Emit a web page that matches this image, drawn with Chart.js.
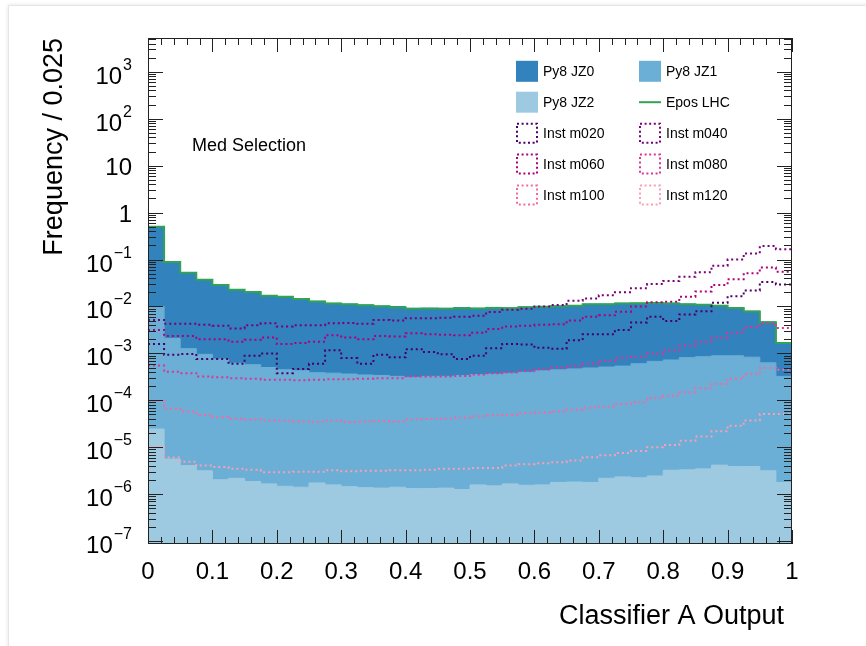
<!DOCTYPE html>
<html>
<head>
<meta charset="utf-8">
<title>Classifier A Output</title>
<script src="https://cdn.jsdelivr.net/npm/chart.js@4.4.1/dist/chart.umd.min.js"></script>
<style>
  html, body { margin: 0; padding: 0; background: #fff; overflow: hidden; }
  #wrap { position: relative; width: 866px; height: 646px; overflow: hidden; }
  .card {
    position: absolute; left: 8px; top: 5px; width: 900px; height: 700px;
    background: #fff; border: 1px solid #e6e6e6; box-shadow: 0 0 4px rgba(0, 0, 0, 0.12);
  }
  canvas { position: absolute; left: 0; top: 0; }
</style>
</head>
<body>
<div id="wrap">
  <div class="card"></div>
  <canvas id="classifierChart" width="866" height="646"></canvas>
</div>
<script>
// 40 bins of width 0.025 on [0, 1]
const binWidth = 0.025;
const binEdges = Array.from({ length: 41 }, (_, i) => +(i * binWidth).toFixed(3));

// Stacked Pythia samples (frequency per bin)
const jz0 = [0.491, 0.0876, 0.0512, 0.0362, 0.0280, 0.0223, 0.0198, 0.0165, 0.0158, 0.0141,
  0.0125, 0.0113, 0.0108, 0.0104, 0.00986, 0.00968, 0.00881, 0.00880, 0.00880, 0.00910,
  0.00876, 0.00919, 0.00895, 0.00937, 0.00957, 0.00975, 0.0100, 0.0107, 0.0107, 0.0112,
  0.0111, 0.0113, 0.0110, 0.0104, 0.0101, 0.00961, 0.00844, 0.00711, 0.00405, 0.00138];
const jz1 = [0.00998, 0.00208, 0.00126, 0.000952, 0.000757, 0.000615, 0.000573, 0.000499, 0.000446, 0.000426,
  0.000387, 0.000378, 0.000362, 0.000346, 0.000338, 0.000323, 0.000308, 0.000323, 0.000323, 0.000338,
  0.000353, 0.000361, 0.000378, 0.000396, 0.000425, 0.000445, 0.000466, 0.000488, 0.000511, 0.000535,
  0.000601, 0.000674, 0.000721, 0.000810, 0.000848, 0.000887, 0.000887, 0.000828, 0.000628, 0.000322];
const jz2 = [2.45e-5, 5.62e-6, 4.07e-6, 3.16e-6, 2.04e-6, 2.19e-6, 1.86e-6, 1.66e-6, 1.48e-6, 1.41e-6,
  1.74e-6, 1.58e-6, 1.45e-6, 1.38e-6, 1.35e-6, 1.41e-6, 1.32e-6, 1.32e-6, 1.35e-6, 1.26e-6,
  1.58e-6, 1.51e-6, 1.66e-6, 1.55e-6, 1.58e-6, 1.78e-6, 1.82e-6, 1.78e-6, 2.19e-6, 2.34e-6,
  2.24e-6, 2.45e-6, 3.24e-6, 3.31e-6, 3.47e-6, 4.17e-6, 3.89e-6, 3.89e-6, 3.16e-6, 1.78e-6];

// Epos LHC overlay
const eposLhc = [0.500, 0.0890, 0.0522, 0.0370, 0.0287, 0.0228, 0.0203, 0.0169, 0.0161, 0.0144,
  0.0128, 0.0116, 0.0111, 0.0106, 0.0101, 0.00955, 0.00895, 0.00900, 0.00890, 0.00920,
  0.00900, 0.00930, 0.00920, 0.00960, 0.00990, 0.0101, 0.0104, 0.0111, 0.0112, 0.0116,
  0.0117, 0.0119, 0.0116, 0.0111, 0.0109, 0.0104, 0.00925, 0.00785, 0.00462, 0.00166];

// Instanton signal samples
const instM020 = [1.58e-3, 9.33e-4, 9.77e-4, 7.59e-4, 7.59e-4, 6.03e-4, 8.91e-4, 1.00e-3, 3.80e-4, 4.68e-4,
  6.03e-4, 1.17e-3, 7.94e-4, 6.03e-4, 9.33e-4, 8.32e-4, 1.23e-3, 1.07e-3, 9.55e-4, 7.59e-4,
  8.91e-4, 1.29e-3, 1.58e-3, 1.55e-3, 1.32e-3, 1.26e-3, 1.91e-3, 2.57e-3, 2.57e-3, 3.16e-3,
  4.57e-3, 6.03e-3, 4.90e-3, 6.76e-3, 7.94e-3, 1.20e-2, 1.66e-2, 2.19e-2, 3.31e-2, 2.95e-2];
const instM040 = [5.13e-3, 4.27e-3, 4.27e-3, 4.07e-3, 3.89e-3, 3.39e-3, 3.98e-3, 4.37e-3, 3.72e-3, 3.98e-3,
  3.98e-3, 4.37e-3, 4.47e-3, 4.27e-3, 5.13e-3, 5.01e-3, 5.62e-3, 5.62e-3, 5.75e-3, 6.03e-3,
  6.31e-3, 7.59e-3, 8.51e-3, 8.91e-3, 1.00e-2, 1.07e-2, 1.32e-2, 1.48e-2, 1.74e-2, 2.00e-2,
  2.45e-2, 3.00e-2, 3.50e-2, 4.27e-2, 5.37e-2, 7.41e-2, 0.100, 0.135, 0.195, 0.166];
const instM060 = [3.16e-3, 2.34e-3, 2.34e-3, 2.00e-3, 2.00e-3, 1.78e-3, 1.95e-3, 2.19e-3, 1.58e-3, 1.66e-3,
  1.78e-3, 2.45e-3, 2.19e-3, 2.00e-3, 2.34e-3, 2.29e-3, 2.69e-3, 2.57e-3, 2.51e-3, 2.45e-3,
  2.75e-3, 3.31e-3, 3.72e-3, 3.89e-3, 4.07e-3, 4.17e-3, 5.01e-3, 6.03e-3, 6.46e-3, 7.76e-3,
  1.00e-2, 1.23e-2, 1.26e-2, 1.62e-2, 2.09e-2, 2.88e-2, 3.80e-2, 5.13e-2, 6.76e-2, 5.50e-2];
const instM080 = [5.50e-4, 4.07e-4, 3.80e-4, 3.24e-4, 3.09e-4, 2.95e-4, 2.88e-4, 2.75e-4, 2.75e-4, 2.69e-4,
  2.75e-4, 2.82e-4, 2.82e-4, 2.88e-4, 2.95e-4, 2.95e-4, 3.24e-4, 3.24e-4, 3.24e-4, 3.31e-4,
  3.55e-4, 3.80e-4, 3.98e-4, 4.27e-4, 4.57e-4, 5.01e-4, 5.37e-4, 6.03e-4, 6.92e-4, 7.94e-4,
  8.51e-4, 1.00e-3, 1.17e-3, 1.45e-3, 1.78e-3, 2.19e-3, 2.75e-3, 3.63e-3, 4.37e-3, 3.47e-3];
const instM100 = [9.77e-5, 6.61e-5, 5.75e-5, 4.90e-5, 4.37e-5, 4.07e-5, 3.89e-5, 3.72e-5, 3.72e-5, 3.55e-5,
  3.47e-5, 3.72e-5, 3.47e-5, 3.55e-5, 3.63e-5, 3.55e-5, 3.89e-5, 3.98e-5, 4.07e-5, 4.27e-5,
  4.57e-5, 4.79e-5, 4.90e-5, 5.37e-5, 5.50e-5, 5.75e-5, 6.31e-5, 6.92e-5, 7.41e-5, 8.32e-5,
  9.12e-5, 1.12e-4, 1.26e-4, 1.48e-4, 1.82e-4, 2.24e-4, 2.88e-4, 3.63e-4, 4.90e-4, 4.47e-4];
const instM120 = [1.00e-5, 6.03e-6, 4.90e-6, 4.07e-6, 3.80e-6, 3.47e-6, 3.31e-6, 2.95e-6, 2.95e-6, 3.02e-6,
  3.02e-6, 3.24e-6, 3.09e-6, 3.16e-6, 3.16e-6, 3.24e-6, 3.24e-6, 3.31e-6, 3.47e-6, 3.47e-6,
  3.63e-6, 3.63e-6, 4.07e-6, 4.37e-6, 4.57e-6, 4.79e-6, 5.25e-6, 6.17e-6, 6.76e-6, 7.59e-6,
  8.32e-6, 1.00e-5, 1.12e-5, 1.38e-5, 1.70e-5, 2.19e-5, 2.88e-5, 3.72e-5, 5.13e-5, 5.13e-5];

// Axis labels
const xTickLabels = ["0", "0.1", "0.2", "0.3", "0.4", "0.5", "0.6", "0.7", "0.8", "0.9", "1"];
const yDecades = [-7, -6, -5, -4, -3, -2, -1, 0, 1, 2, 3];

const colors = {
  jz0: "#3182bd", jz1: "#6baed6", jz2: "#9ecae1", epos: "#31a354",
  m020: "#49006a", m040: "#7a0177", m060: "#ae017e",
  m080: "#dd3497", m100: "#f768a1", m120: "#fa9fb5"
};

const FONT = "'Liberation Sans', Arial, Helvetica, sans-serif";

// histogram -> step points: one point per left edge, plus the closing right edge
function histPoints(values) {
  const pts = values.map((v, i) => ({ x: binEdges[i], y: v }));
  pts.push({ x: binEdges[values.length], y: values[values.length - 1] });
  return pts;
}

// stack sums, drawn back to front
const stackMid = jz1.map((v, i) => v + jz2[i]);
const stackTop = jz0.map((v, i) => v + stackMid[i]);

function filledHist(label, values, color, order) {
  return {
    label, data: histPoints(values), stepped: "before", order,
    backgroundColor: color, borderColor: color, borderWidth: 1,
    fill: "start", pointRadius: 0
  };
}

function dottedHist(label, values, color) {
  return {
    label, data: histPoints(values), stepped: "before", order: 1,
    borderColor: color, borderWidth: 2, borderDash: [2, 3], borderCapStyle: "butt",
    fill: false, pointRadius: 0
  };
}

const legendEntries = [
  { label: "Py8 JZ0", kind: "box", color: colors.jz0 },
  { label: "Py8 JZ1", kind: "box", color: colors.jz1 },
  { label: "Py8 JZ2", kind: "box", color: colors.jz2 },
  { label: "Epos LHC", kind: "line", color: colors.epos },
  { label: "Inst m020", kind: "dots", color: colors.m020 },
  { label: "Inst m040", kind: "dots", color: colors.m040 },
  { label: "Inst m060", kind: "dots", color: colors.m060 },
  { label: "Inst m080", kind: "dots", color: colors.m080 },
  { label: "Inst m100", kind: "dots", color: colors.m100 },
  { label: "Inst m120", kind: "dots", color: colors.m120 }
];

// ROOT-like frame: inward ticks on all four sides, labels, titles, legend
const rootFrame = {
  id: "rootFrame",
  afterDatasetsDraw(chart) {
    const { ctx, chartArea: a, scales: { x, y } } = chart;
    ctx.save();
    ctx.strokeStyle = "#222";
    ctx.lineWidth = 1;
    ctx.setLineDash([]);
    ctx.beginPath();
    for (let i = 0; i <= 50; i++) {
      const px = Math.round(x.getPixelForValue(i * 0.02)) + 0.5;
      const len = i % 5 === 0 ? 14 : 7;
      ctx.moveTo(px, a.bottom); ctx.lineTo(px, a.bottom - len);
      ctx.moveTo(px, a.top); ctx.lineTo(px, a.top + len);
    }
    for (let n = -8; n <= 3; n++) {
      for (let k = 1; k <= 9; k++) {
        const v = k * Math.pow(10, n);
        if (v < y.min || v > y.max) continue;
        const py = Math.round(y.getPixelForValue(v)) + 0.5;
        const len = k === 1 ? 15 : 8;
        ctx.moveTo(a.left, py); ctx.lineTo(a.left + len, py);
        ctx.moveTo(a.right, py); ctx.lineTo(a.right - len, py);
      }
    }
    ctx.stroke();
    ctx.strokeRect(a.left + 0.5, a.top + 0.5, a.width - 1, a.height - 1);
    ctx.restore();
  },
  afterDraw(chart) {
    const { ctx, chartArea: a, scales: { x, y } } = chart;
    ctx.save();
    ctx.fillStyle = "#000";

    // x tick labels
    ctx.font = "24px " + FONT;
    ctx.textAlign = "center";
    ctx.textBaseline = "alphabetic";
    xTickLabels.forEach((t, i) => ctx.fillText(t, x.getPixelForValue(i * 0.1), 579));

    // y tick labels (10^n)
    ctx.textAlign = "right";
    yDecades.forEach(n => {
      const py = y.getPixelForValue(Math.pow(10, n));
      const right = a.left - 16;
      if (n === 0 || n === 1) {
        ctx.font = "24px " + FONT;
        ctx.fillText(n === 0 ? "1" : "10", right, py + 9);
        return;
      }
      ctx.font = "16px " + FONT;
      const exp = String(n).replace("-", "\u2212");
      const expW = ctx.measureText(exp).width;
      ctx.fillText(exp, right, py - 2);
      ctx.font = "24px " + FONT;
      ctx.fillText("10", right - expW - 1, py + 12);
    });

    // axis titles
    ctx.font = "27px " + FONT;
    ctx.textAlign = "right";
    ctx.fillText("Classifier A Output", a.right - 8, 624);
    ctx.save();
    ctx.translate(62, a.top);
    ctx.rotate(-Math.PI / 2);
    ctx.textAlign = "right";
    ctx.fillText("Frequency / 0.025", 0, 0);
    ctx.restore();

    // selection label
    ctx.font = "18px " + FONT;
    ctx.textAlign = "left";
    ctx.textBaseline = "middle";
    ctx.fillText("Med Selection", 192, 146);

    // legend, two columns
    const colX = [516, 639];
    const rowY = [71.3, 102.2, 133.2, 164.1, 195];
    ctx.font = "14px " + FONT;
    legendEntries.forEach((e, i) => {
      const bx = colX[i % 2];
      const cy = rowY[Math.floor(i / 2)];
      if (e.kind === "box") {
        ctx.fillStyle = e.color;
        ctx.fillRect(bx, cy - 10.5, 22, 21);
      } else if (e.kind === "line") {
        ctx.strokeStyle = e.color;
        ctx.lineWidth = 2;
        ctx.beginPath(); ctx.moveTo(bx, cy); ctx.lineTo(bx + 22, cy); ctx.stroke();
      } else {
        ctx.strokeStyle = e.color;
        ctx.lineWidth = 2;
        ctx.setLineDash([2, 2.6]);
        ctx.strokeRect(bx + 1, cy - 9.5, 20, 19);
        ctx.setLineDash([]);
      }
      ctx.fillStyle = "#000";
      ctx.fillText(e.label, bx + 27, cy + 1);
    });
    ctx.restore();
  }
};

const ctx = document.getElementById("classifierChart").getContext("2d");
new Chart(ctx, {
  type: "line",
  data: {
    datasets: [
      dottedHist("Inst m020", instM020, colors.m020),
      dottedHist("Inst m040", instM040, colors.m040),
      dottedHist("Inst m060", instM060, colors.m060),
      dottedHist("Inst m080", instM080, colors.m080),
      dottedHist("Inst m100", instM100, colors.m100),
      dottedHist("Inst m120", instM120, colors.m120),
      {
        label: "Epos LHC", data: histPoints(eposLhc), stepped: "before", order: 2,
        borderColor: colors.epos, borderWidth: 2, fill: false, pointRadius: 0
      },
      filledHist("Py8 JZ2", jz2, colors.jz2, 3),
      filledHist("Py8 JZ1", stackMid, colors.jz1, 4),
      filledHist("Py8 JZ0", stackTop, colors.jz0, 5)
    ]
  },
  options: {
    responsive: false,
    devicePixelRatio: 1,
    animation: false,
    layout: { padding: { left: 148, right: 74, top: 38, bottom: 102 } },
    plugins: { legend: { display: false }, tooltip: { enabled: false } },
    scales: {
      x: { type: "linear", min: 0, max: 1, display: false },
      y: { type: "logarithmic", min: 8.7e-8, max: 5.24e3, display: false }
    }
  },
  plugins: [rootFrame]
});
</script>
</body>
</html>
